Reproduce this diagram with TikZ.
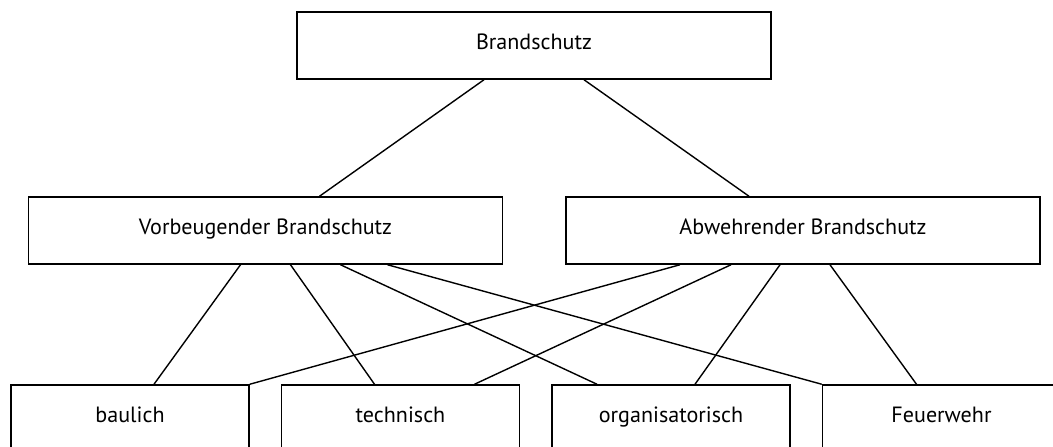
\documentclass[tikz,border=0pt]{standalone}
\usepackage{fontspec}
\setmainfont{PT Sans}
\newlength{\mywd}
\settowidth{\mywd}{\fontsize{21}{24}\selectfont BrandschutzVorbeugender BrandschutzAbwehrender Brandschutzbaulichtechnischorganisatorisch Feuerwehr}
\pgfmathsetmacro{\myfs}{1025/\mywd*21}
\begin{document}
\begin{tikzpicture}[x=1pt,y=1pt,
  box/.style={draw,line width=1.5pt,minimum height=67pt,inner sep=0pt,
    text height=0.7em,text depth=0pt,font=\fontsize{\myfs pt}{\myfs pt}\selectfont},
  big/.style={box,minimum width=474pt},
  small/.style={box,minimum width=238pt},
  conn/.style={line width=1.4pt}]
\clip (0,0) rectangle (1053,-447);
\fill[white] (0,0) rectangle (1053,-447);
\node[big] (top) at (534,-45.5) {Brandschutz};
\node[big] (vb) at (265.5,-230.5) {Vorbeugender Brandschutz};
\node[big] (ab) at (803,-230.5) {Abwehrender Brandschutz};
\node[small] (bau) at (130,-418.5) {baulich};
\node[small] (tec) at (400.5,-418.5) {technisch};
\node[small] (org) at (671,-418.5) {organisatorisch};
\node[small] (feu) at (941.5,-418.5) {Feuerwehr};
\draw[conn] ([xshift=-50pt]top.south) -- ([xshift=54pt]vb.north);
\draw[conn] ([xshift=50pt]top.south) -- ([xshift=-54pt]ab.north);
\draw[conn] ([xshift=-25pt]vb.south) -- ([xshift=24pt]bau.north);
\draw[conn] ([xshift=25pt]vb.south) -- ([xshift=-26pt]tec.north);
\draw[conn] ([xshift=75pt]vb.south) -- ([xshift=-74pt]org.north);
\draw[conn] ([xshift=122pt]vb.south) -- (feu.north west);
\draw[conn] ([xshift=-123pt]ab.south) -- (bau.north east);
\draw[conn] ([xshift=-72pt]ab.south) -- ([xshift=74pt]tec.north);
\draw[conn] ([xshift=-23pt]ab.south) -- ([xshift=24pt]org.north);
\draw[conn] ([xshift=27pt]ab.south) -- ([xshift=-25pt]feu.north);
\end{tikzpicture}
\end{document}
